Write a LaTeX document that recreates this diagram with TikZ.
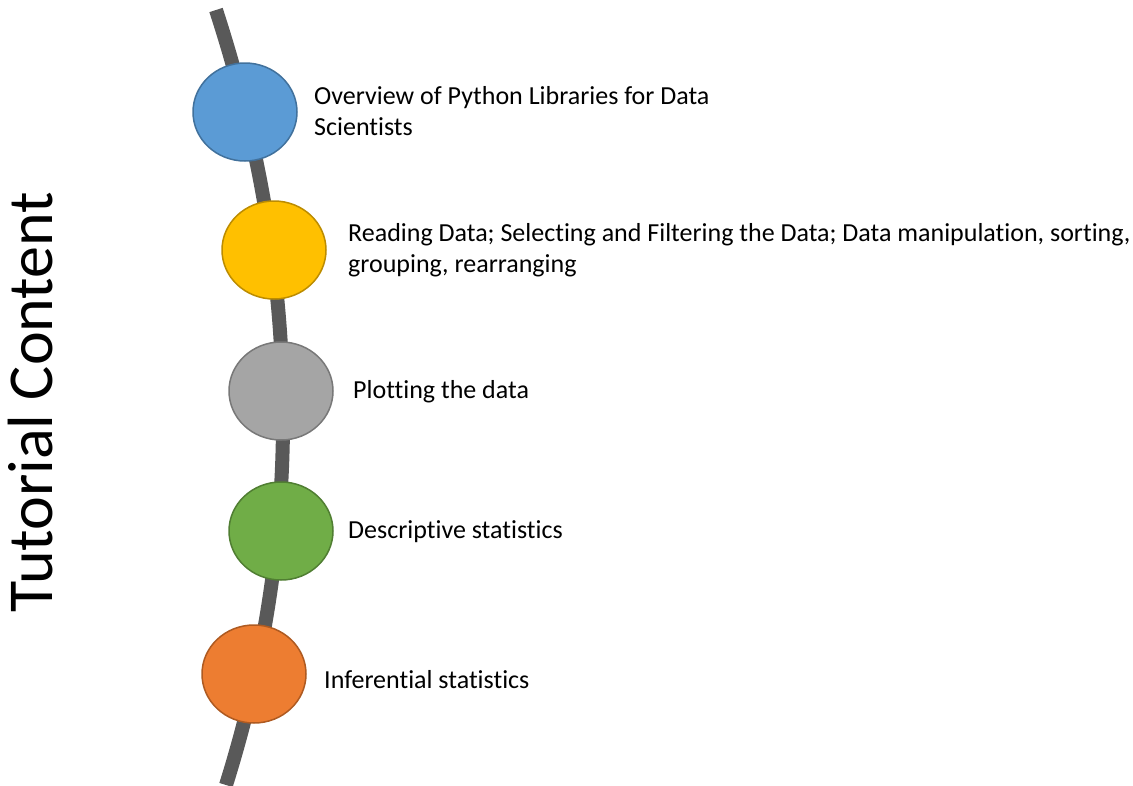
\documentclass[tikz,border=0pt]{standalone}
\usepackage{fontspec}
\setmainfont{Carlito}[Ligatures=NoCommon]
\usetikzlibrary{shapes.geometric}
\definecolor{tcspine}{RGB}{89, 89, 89}
\definecolor{tcblue}{RGB}{91, 155, 213}
\definecolor{tcblueline}{RGB}{65, 113, 156}
\definecolor{tcyellow}{RGB}{255, 192, 0}
\definecolor{tcyellowline}{RGB}{188, 140, 0}
\definecolor{tcgray}{RGB}{165, 165, 165}
\definecolor{tcgrayline}{RGB}{120, 120, 120}
\definecolor{tcgreen}{RGB}{112, 173, 71}
\definecolor{tcgreenline}{RGB}{80, 126, 50}
\definecolor{tcorange}{RGB}{237, 125, 49}
\definecolor{tcorangeline}{RGB}{174, 90, 33}

\begin{document}
\begin{tikzpicture}[x=1pt, y=-1pt,
		dot/.style={ellipse, minimum width=104pt, minimum height=98pt, inner sep=0pt, line width=1.5pt},
		topic/.style={anchor=west, align=left, inner sep=0pt, font=\fontsize{26}{31}\selectfont}]
			\useasboundingbox (0, 0) rectangle (1133, 785);
			\coordinate (spinetop) at (216, 10);
			\coordinate (spinebottom) at (226, 785);
			\draw [tcspine, line width=14pt] (spinetop) .. controls (300, 268) and (307, 527) .. (spinebottom);
			\node [dot, fill=tcblue, draw=tcblueline] (python) at (245, 112) {};
			\node [dot, fill=tcyellow, draw=tcyellowline] (reading) at (274, 250) {};
			\node [dot, fill=tcgray, draw=tcgrayline] (plotting) at (281, 391) {};
			\node [dot, fill=tcgreen, draw=tcgreenline] (descriptive) at (281, 531) {};
			\node [dot, fill=tcorange, draw=tcorangeline] (inferential) at (254, 674) {};
			\node [topic] (pythontext) at (314, 111) {Overview of Python Libraries for Data\\Scientists};
			\node [topic] (readingtext) at (348, 250) {Reading Data; Selecting and Filtering the Data; Data manipulation, sorting,\\grouping, rearranging};
			\node [topic] (plottingtext) at (353, 392) {Plotting the data};
			\node [topic] (descriptivetext) at (348, 532) {Descriptive statistics};
			\node [topic] (inferentialtext) at (324, 680) {Inferential statistics};
			\node [rotate=90, anchor=base, inner sep=0pt, font=\fontsize{64}{76}\selectfont] (title) at (52, 402) {Tutorial Content};
		\end{tikzpicture}
\end{document}
